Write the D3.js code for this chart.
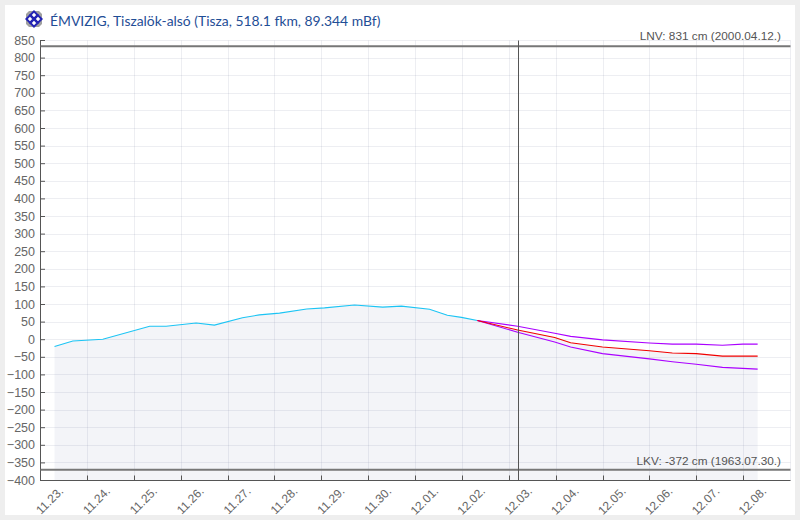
<!DOCTYPE html>
<html>
<head>
<meta charset="utf-8">
<script src="https://cdn.jsdelivr.net/npm/d3@7/dist/d3.min.js"></script>
<style>
  html, body { margin: 0; padding: 0; background: #eeeeee; }
  svg { display: block; }
</style>
</head>
<body>
<script>
// day offsets are counted from 11.23. 00:00
var tickLabels = ["11.23.", "11.24.", "11.25.", "11.26.", "11.27.", "11.28.", "11.29.", "11.30.",
                  "12.01.", "12.02.", "12.03.", "12.04.", "12.05.", "12.06.", "12.07.", "12.08."];
var yTicks = d3.range(-400, 851, 50);

var obsDays = [0.31, 0.70, 1.34, 2.34, 2.69, 3.33, 3.72, 4.32, 4.68, 5.11, 5.69, 6.07, 6.71, 7.31, 7.71, 8.31, 8.69, 8.99, 9.33];
var obsValues = [-21, -5, 0, 37, 37, 46, 40, 61, 69, 74, 86, 89, 97, 91, 94, 85, 68, 62, 53];

var fcDays = [9.33, 10.19, 10.98, 11.32, 12.0, 13.0, 13.49, 14.0, 14.56, 14.99, 15.31];
var fcHigh = [53, 37, 17, 8, -2, -11, -14, -14, -17, -14, -14];
var fcMid = [53, 26, 5, -10, -22, -33, -39, -41, -48, -48, -48];
var fcLow = [53, 20, -8, -22, -41, -56, -64, -71, -80, -83, -85];

var lnvValue = 831, lkvValue = -372;
var lnvLabel = "LNV: 831 cm (2000.04.12.)";
var lkvLabel = "LKV: -372 cm (1963.07.30.)";
var nowDay = 10.2;
var title = "ÉMVIZIG, Tiszalök-alsó (Tisza, 518.1 fkm, 89.344 mBf)";

var svg = d3.select("body").append("svg").attr("width", 800).attr("height", 520);
svg.append("rect").attr("x", 5).attr("y", 5).attr("width", 790).attr("height", 510).attr("fill", "#fff");

var x = d3.scaleLinear().domain([0, 16]).range([40, 790]);
var y = d3.scaleLinear().domain([-400, 850]).range([480, 40]);

// area under the series (follows the middle forecast)
var area = d3.area().x(function(d) { return x(d[0]); }).y0(y(-400)).y1(function(d) { return y(d[1]); });
var areaData = d3.zip(obsDays, obsValues).concat(d3.zip(fcDays, fcMid).slice(1));
svg.append("path").attr("d", area(areaData)).attr("fill", "#f3f4f8");

// grid
svg.append("g").selectAll("line").data(yTicks).join("line")
    .attr("x1", 40.5).attr("x2", 790.5)
    .attr("y1", function(d) { return Math.round(y(d)) + 0.5; }).attr("y2", function(d) { return Math.round(y(d)) + 0.5; })
    .attr("stroke", "#8088a0").attr("stroke-opacity", 0.14);
svg.append("g").selectAll("line").data(d3.range(1, 17)).join("line")
    .attr("x1", function(d) { return Math.round(x(d)) + 0.5; }).attr("x2", function(d) { return Math.round(x(d)) + 0.5; })
    .attr("y1", 40.5).attr("y2", 480.5)
    .attr("stroke", "#8088a0").attr("stroke-opacity", 0.14);

// axes
var yAxis = d3.axisLeft(y).tickValues(yTicks).tickSize(6).tickPadding(3).tickFormat(d3.format("d"));
var gy = svg.append("g").attr("transform", "translate(40,0)").call(yAxis);
gy.selectAll("line").attr("x2", 5).attr("stroke", "#555");
gy.select(".domain").attr("stroke", "#555").attr("d", "M0.5,40.5V480.5");
gy.selectAll("text").attr("font-family", "Liberation Sans").attr("font-size", 12.5).attr("fill", "#666").attr("x", -5);

var xAxis = d3.axisBottom(x).tickValues(d3.range(0, 16)).tickSize(0).tickFormat(function(d) { return tickLabels[d]; });
var gx = svg.append("g").attr("transform", "translate(0,480)").call(xAxis);
gx.select(".domain").attr("stroke", "#555").attr("d", "M40.5,0.5H790.5");
gx.selectAll("text")
    .attr("font-family", "Liberation Sans").attr("font-size", 12).attr("fill", "#666")
    .attr("text-anchor", "end").attr("dy", null).attr("y", 0)
    .attr("transform", "translate(23.5,12) rotate(-45)");
svg.append("g").selectAll("line").data(d3.range(1, 16)).join("line")
    .attr("x1", function(d) { return Math.round(x(d)) + 0.5; }).attr("x2", function(d) { return Math.round(x(d)) + 0.5; })
    .attr("y1", 480.5).attr("y2", 475.5).attr("stroke", "#555");

// record lines
svg.append("line").attr("x1", 40.5).attr("x2", 790.5).attr("y1", y(lnvValue) - 0.5).attr("y2", y(lnvValue) - 0.5)
    .attr("stroke", "#777").attr("stroke-width", 2);
svg.append("line").attr("x1", 40.5).attr("x2", 790.5).attr("y1", y(lkvValue) - 0.5).attr("y2", y(lkvValue) - 0.5)
    .attr("stroke", "#777").attr("stroke-width", 2);
svg.append("text").attr("x", 781).attr("y", y(lnvValue) - 6.5).attr("text-anchor", "end")
    .attr("font-family", "Liberation Sans").attr("font-size", 11.8).attr("fill", "#555").text(lnvLabel);
svg.append("text").attr("x", 781).attr("y", y(lkvValue) - 5).attr("text-anchor", "end")
    .attr("font-family", "Liberation Sans").attr("font-size", 11.8).attr("fill", "#555").text(lkvLabel);

// series
var line = d3.line().x(function(d) { return x(d[0]); }).y(function(d) { return y(d[1]); });
function addLine(days, vals, color) {
  svg.append("path").attr("d", line(d3.zip(days, vals)))
      .attr("fill", "none").attr("stroke", color).attr("stroke-width", 1.1);
}
addLine(obsDays, obsValues, "#1cc4f4");
addLine(fcDays, fcHigh, "#aa00ff");
addLine(fcDays, fcLow, "#aa00ff");
addLine(fcDays, fcMid, "#f00000");

// current time marker
svg.append("line").attr("x1", Math.round(x(nowDay)) + 0.5).attr("x2", Math.round(x(nowDay)) + 0.5).attr("y1", 40.5).attr("y2", 480.5)
    .attr("stroke", "#555").attr("stroke-width", 1);

// logo and title
var logo = svg.append("g").attr("transform", "translate(34,19)");
logo.append("path").attr("d", "M-5,-8H5L8,-5V5L5,8H-5L-8,5V-5Z").attr("fill", "#a0a0a0");
[[0, -4], [4, 0], [0, 4], [-4, 0]].forEach(function(p) {
  logo.append("path").attr("transform", "translate(" + p[0] + "," + p[1] + ")")
      .attr("d", "M0,-3.6L3.6,0L0,3.6L-3.6,0Z").attr("fill", "#fff").attr("stroke", "#2424b4").attr("stroke-width", 2);
});
svg.append("text").attr("x", 50).attr("y", 26)
    .attr("font-family", "Lato").attr("font-size", 13.9).attr("fill", "#1f4e96").text(title);
</script>
</body>
</html>
